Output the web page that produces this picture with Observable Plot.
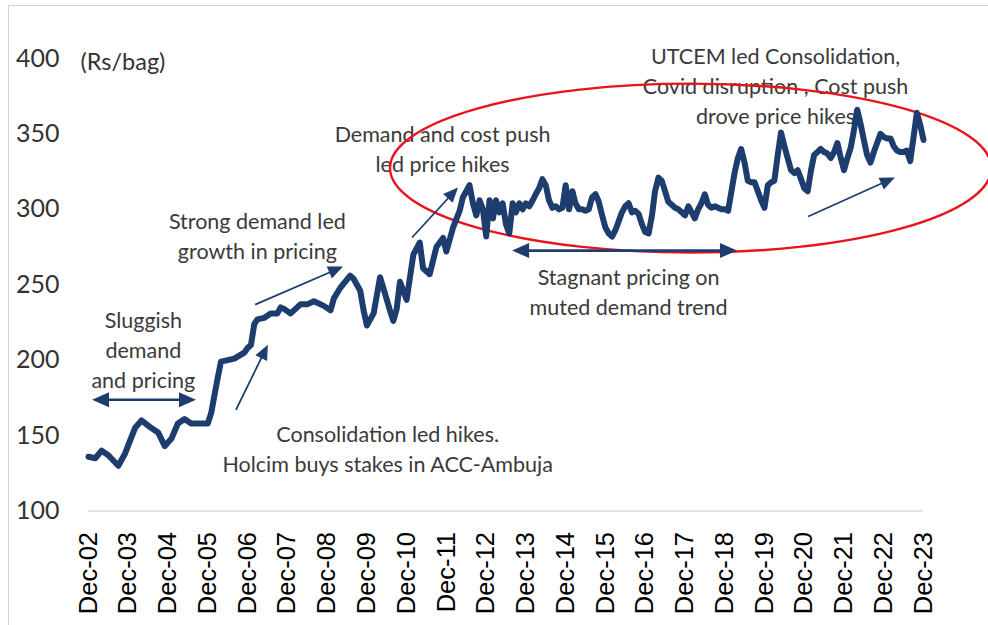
<!DOCTYPE html>
<html><head><meta charset="utf-8">
<script src="https://cdn.jsdelivr.net/npm/d3@7"></script>
<script src="https://cdn.jsdelivr.net/npm/@observablehq/plot@0.6"></script>
<style>
body{margin:0;background:#fff;}
#wrap{position:relative;width:988px;height:625px;overflow:hidden;}
#frame{position:absolute;left:8px;top:5px;width:1000px;height:700px;border-left:1.5px solid #d4d4d4;border-top:1.5px solid #d4d4d4;pointer-events:none;}
</style></head><body><div id="wrap"><div id="chart"></div><div id="frame"></div></div>
<script>
// ---- data (Rs/bag) ----
const months = [
 "2002-12","2003-02","2003-04","2003-06","2003-09","2003-11",
 "2004-02","2004-04","2004-07","2004-09","2004-11",
 "2005-01","2005-03","2005-05","2005-07","2005-10","2005-12",
 "2006-01","2006-03","2006-04","2006-08","2006-11","2006-12",
 "2007-01","2007-02","2007-03","2007-05","2007-07","2007-09","2007-10","2007-11",
 "2008-01","2008-03","2008-04","2008-06","2008-08","2008-09","2008-11",
 "2009-01","2009-02","2009-04","2009-07","2009-08","2009-10","2009-11","2009-12",
 "2010-02","2010-04","2010-05","2010-07","2010-08","2010-09","2010-10","2010-12",
 "2011-02","2011-04","2011-05","2011-07","2011-09","2011-11","2011-12",
 "2012-02","2012-04","2012-05","2012-07","2012-08","2012-09","2012-10","2012-11","2012-12",
 "2013-01","2013-02","2013-03","2013-04","2013-05","2013-06","2013-07","2013-08","2013-09","2013-10","2013-11","2013-12",
 "2014-01","2014-02","2014-03","2014-04","2014-05","2014-06","2014-07","2014-08","2014-09","2014-10","2014-11","2014-12",
 "2015-01","2015-02","2015-03","2015-04","2015-05","2015-06","2015-07","2015-08","2015-09","2015-10","2015-11","2015-12",
 "2016-01","2016-02","2016-03","2016-04","2016-05","2016-06","2016-07","2016-08","2016-09","2016-10","2016-11","2016-12",
 "2017-01","2017-02","2017-03","2017-04","2017-05","2017-06","2017-07","2017-08","2017-09","2017-10","2017-11","2017-12",
 "2018-01","2018-02","2018-03","2018-04","2018-05","2018-06","2018-07","2018-08","2018-09","2018-10","2018-11","2018-12",
 "2019-01","2019-02","2019-03","2019-04","2019-05","2019-06","2019-07","2019-08","2019-09","2019-10","2019-11","2019-12",
 "2020-01","2020-02","2020-03","2020-04","2020-05","2020-06","2020-07","2020-08","2020-09","2020-10","2020-11","2020-12",
 "2021-01","2021-02","2021-03","2021-04","2021-05","2021-06","2021-07","2021-08","2021-09","2021-10","2021-11","2021-12",
 "2022-01","2022-02","2022-03","2022-04","2022-05","2022-06","2022-07","2022-08","2022-09","2022-10","2022-11","2022-12",
 "2023-01","2023-02","2023-03","2023-04","2023-05","2023-06","2023-07","2023-08","2023-09","2023-10","2023-11","2023-12"
];
const prices = [
 136,135,140,137,130,138,
 155,160,155,152,143,
 148,158,161,158,158,158,
 165,188,199,201,205,208,
 210,224,227,228,231,231,235,234,
 231,235,237,237,239,238,236,
 233,241,248,256,254,246,233,223,
 231,255,248,233,226,234,252,240,
 270,278,261,257,275,281,272,
 288,299,308,316,304,296,306,300,282,
 306,294,306,298,304,290,284,304,298,304,300,304,
 302,306,310,314,320,316,306,301,302,300,301,316,
 300,312,304,300,300,299,300,308,310,305,296,288,
 284,282,286,292,298,302,304,298,299,297,290,285,
 284,296,312,321,319,312,305,303,301,300,298,296,
 302,298,294,300,304,310,303,301,302,301,300,300,
 299,312,324,334,340,331,319,318,318,312,306,301,
 316,318,319,336,351,342,334,326,324,326,320,314,
 312,326,336,338,340,338,337,334,338,344,334,326,
 334,341,352,366,357,346,336,331,338,344,350,348,
 347,347,342,339,338,338,339,332,348,364,356,346
];
const yTicks = [100,150,200,250,300,350,400];
const xTickLabels = ["Dec-02","Dec-03","Dec-04","Dec-05","Dec-06","Dec-07","Dec-08","Dec-09","Dec-10","Dec-11","Dec-12",
 "Dec-13","Dec-14","Dec-15","Dec-16","Dec-17","Dec-18","Dec-19","Dec-20","Dec-21","Dec-22","Dec-23"];
const xTickDates = ["2002-12","2003-12","2004-12","2005-12","2006-12","2007-12","2008-12","2009-12","2010-12","2011-12","2012-12",
 "2013-12","2014-12","2015-12","2016-12","2017-12","2018-12","2019-12","2020-12","2021-12","2022-12","2023-12"];

// annotations (date, value)
const notes = [
 {date:"2004-04-18", value:207.9, text:"Sluggish\ndemand\nand pricing"},
 {date:"2007-03-01", value:283.6, text:"Strong demand led\ngrowth in pricing"},
 {date:"2010-06-10", value:142.2, text:"Consolidation led hikes.\nHolcim buys stakes in ACC-Ambuja"},
 {date:"2011-10-27", value:341.1, text:"Demand and cost push\nled price hikes"},
 {date:"2016-07-01", value:246.4, text:"Stagnant pricing on\nmuted demand trend"},
 {date:"2020-03-12", value:382.6, text:"UTCEM led Consolidation,\nCovid disruption , Cost push\ndrove price hikes"}
];
const unitLabel = {date:"2002-09-18", value:397.5, text:"(Rs/bag)"};
const arrows = [
 {x1:"2003-01-07", y1:173.4, x2:"2005-08-19", y2:173.4, both:true, w:2.6},
 {x1:"2007-02-13", y1:236.5, x2:"2009-05-01", y2:261.7, both:false, w:1.8},
 {x1:"2006-08-21", y1:166.7, x2:"2007-06-10", y2:209.9, both:false, w:1.8},
 {x1:"2011-01-25", y1:281.0, x2:"2012-03-22", y2:314.2, both:false, w:1.8},
 {x1:"2013-08-01", y1:272.3, x2:"2019-03-28", y2:272.3, both:true, w:2.6},
 {x1:"2021-01-10", y1:294.9, x2:"2023-03-18", y2:320.8, both:false, w:1.8}
];
const ellipse = {from:"2010-07-06", to:"2025-08-20", top:383, bottom:271};

const navy = "#1c3d6e";
const rows = months.map((m, i) => ({date: new Date(m + "-01"), price: prices[i]}));
const dt = s => new Date(s.length === 7 ? s + "-01" : s);

function ellipseMark(index, {x, y}) {
  const x0 = x(dt(ellipse.from)), x1 = x(dt(ellipse.to));
  const y0 = y(ellipse.top), y1 = y(ellipse.bottom);
  return d3.create("svg:ellipse")
    .attr("cx", (x0 + x1) / 2).attr("cy", (y0 + y1) / 2)
    .attr("rx", (x1 - x0) / 2).attr("ry", (y1 - y0) / 2)
    .attr("fill", "none").attr("stroke", "#e8141b").attr("stroke-width", 2.4).node();
}
function arrowMark(index, {x, y}) {
  const g = d3.create("svg:g").attr("fill", navy).attr("stroke", navy);
  const head = (px, py, ux, uy, L, W) => {
    const bx = px - ux * L, by = py - uy * L;
    g.append("path").attr("stroke", "none")
     .attr("d", `M${px},${py}L${bx - uy * W},${by + ux * W}L${bx + uy * W},${by - ux * W}Z`);
  };
  for (const a of arrows) {
    const ax = x(dt(a.x1)), ay = y(a.y1), bx = x(dt(a.x2)), by = y(a.y2);
    const len = Math.hypot(bx - ax, by - ay), ux = (bx - ax) / len, uy = (by - ay) / len;
    const L = a.both ? 17 : 15, W = a.both ? 7.5 : 6.5;
    const sx = a.both ? ax + ux * (L - 2) : ax, sy = a.both ? ay + uy * (L - 2) : ay;
    g.append("line").attr("x1", sx).attr("y1", sy)
      .attr("x2", bx - ux * (L - 2)).attr("y2", by - uy * (L - 2)).attr("stroke-width", a.w);
    head(bx, by, ux, uy, L, W);
    if (a.both) head(ax, ay, -ux, -uy, L, W);
  }
  return g.node();
}

const chart = Plot.plot({
  width: 988, height: 625,
  marginLeft: 68, marginRight: 65, marginTop: 58, marginBottom: 114.5,
  style: {fontFamily: "Lato", background: "transparent", overflow: "visible"},
  x: {type: "utc", domain: [dt("2002-12"), dt("2023-12")], range: [88, 923], label: null},
  y: {domain: [100, 400], range: [510.5, 58], label: null},
  marks: [
    Plot.ruleY([100], {x1: dt("2002-12"), x2: dt("2023-12"), stroke: "#d9d9d9", strokeWidth: 1.6}),
    Plot.axisY({ticks: yTicks, tickSize: 0, tickPadding: 9, fontSize: 25, fill: "#333", label: null, fontFamily: "Lato"}),
    Plot.axisX({ticks: xTickDates.map(dt), tickSize: 0, tickPadding: 21, tickRotate: -90,
      tickFormat: (d) => xTickLabels[xTickDates.findIndex(s => +dt(s) === +d)],
      fontSize: 25.5, fill: "#000", label: null, fontFamily: "Liberation Sans"}),
    Plot.text([unitLabel], {x: d => dt(d.date), y: "value", text: "text", textAnchor: "start", fontSize: 23.5, fill: "#333"}),
    Plot.text(notes, {x: d => dt(d.date), y: "value", text: "text", textAnchor: "middle", fontSize: 21.5, lineHeight: 30 / 21.5, fill: "#3a3a3a"}),
    ellipseMark,
    Plot.line(rows, {x: "date", y: "price", stroke: navy, strokeWidth: 6, strokeLinejoin: "round", strokeLinecap: "round"}),
    arrowMark
  ]
});
document.getElementById("chart").appendChild(chart);
</script>
</body></html>
